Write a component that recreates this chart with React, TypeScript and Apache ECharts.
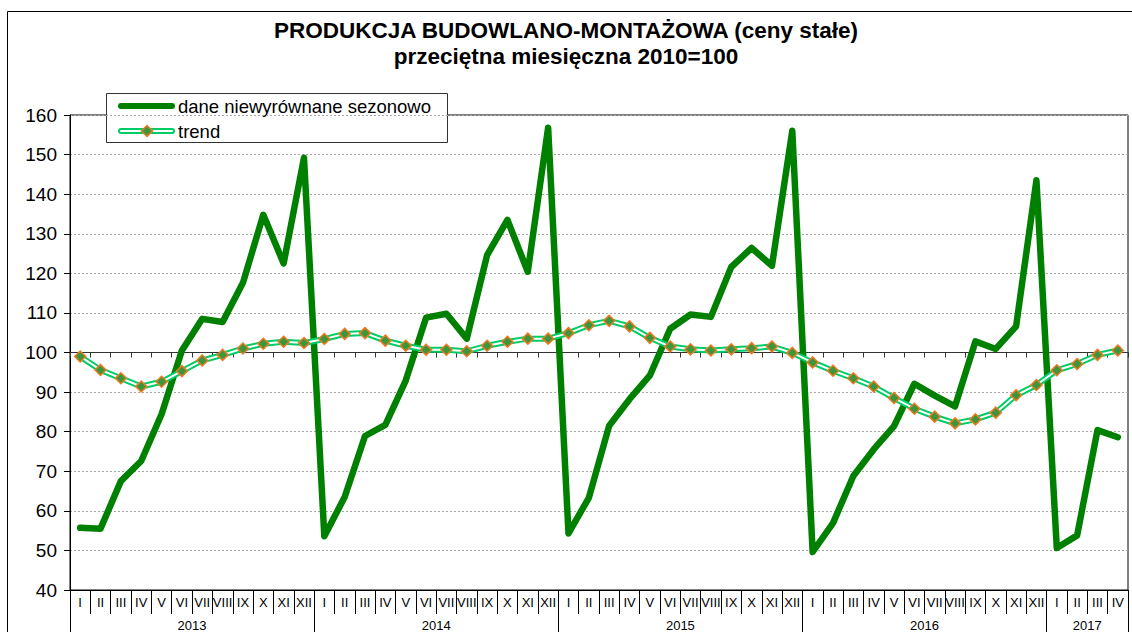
import React, { useEffect, useRef } from 'react';
import * as echarts from 'echarts';

const monthNames = ['I', 'II', 'III', 'IV', 'V', 'VI', 'VII', 'VIII', 'IX', 'X', 'XI', 'XII'];
const years = ['2013', '2014', '2015', '2016', '2017'];
const monthsPerYear = [12, 12, 12, 12, 4];

const dane = [
  55.7, 55.5, 67.5, 72.6, 84.4, 100.5, 108.5, 107.7, 117.6, 134.8, 122.5, 149.2,
  53.6, 63.5, 78.9, 81.7, 92.9, 108.8, 109.8, 103.5, 124.6, 133.5, 120.4, 156.8,
  54.3, 63.3, 81.5, 88.2, 94.2, 106.0, 109.6, 109.0, 121.6, 126.4, 121.9, 156.0,
  49.6, 56.9, 68.8, 75.5, 81.4, 92.1, 89.1, 86.4, 102.8, 100.9, 106.6, 143.5,
  50.6, 53.8, 80.4, 78.6,
];

const trend = [
  99.0, 95.6, 93.5, 91.4, 92.6, 95.3, 98.0, 99.4, 101.0, 102.2, 102.7, 102.4,
  103.4, 104.7, 104.9, 103.0, 101.7, 100.7, 100.7, 100.3, 101.7, 102.7, 103.5, 103.5,
  104.9, 106.9, 108.0, 106.6, 103.7, 101.5, 100.8, 100.5, 100.8, 101.1, 101.5, 99.9,
  97.5, 95.4, 93.5, 91.4, 88.5, 85.8, 83.8, 82.1, 83.1, 84.8, 89.2, 91.8,
  95.5, 97.1, 99.4, 100.5,
];

const titleLines = ['PRODUKCJA BUDOWLANO-MONTAŻOWA (ceny stałe)', 'przeciętna miesięczna 2010=100'];
const legendNames = ['dane niewyrównane sezonowo', 'trend'];

const yMin = 40;
const yMax = 160;
const yStep = 10;
const refValue = 100;

const categories: string[] = [];
const yearStarts: number[] = [];
const yearCenters: number[] = [];
{
  let acc = 0;
  monthsPerYear.forEach((n) => {
    yearStarts.push(acc);
    yearCenters.push(acc + n / 2);
    for (let i = 0; i < n; i++) categories.push(monthNames[i]);
    acc += n;
  });
  yearStarts.push(acc);
}

const FONT = '"Liberation Sans", Arial, sans-serif';

export default function App() {
  const ref = useRef<HTMLDivElement>(null);

  useEffect(() => {
    document.body.style.margin = '0';
    const chart = echarts.init(ref.current!, null, { renderer: 'svg' });

    const gridTop = 115;
    const gridBottom = 42;
    const gridHeight = 632 - gridTop - gridBottom;
    const refOffset = -(gridHeight * (refValue - yMin)) / (yMax - yMin);

    const titleStyle = {
      fontFamily: FONT,
      fontSize: 22.5,
      fontWeight: 'bold',
      color: '#000',
    };

    const option: any = {
      animation: false,
      backgroundColor: '#fff',
      textStyle: { fontFamily: FONT },
      title: [
        { text: titleLines[0], left: 'center', top: 14, padding: 5, textStyle: titleStyle },
        { text: titleLines[1], left: 'center', top: 40, padding: 5, textStyle: titleStyle },
      ],
      grid: {
        left: 70,
        right: 4,
        top: gridTop,
        bottom: gridBottom,
        show: true,
        borderColor: '#000',
        borderWidth: 1,
        containLabel: false,
      },
      xAxis: [
        {
          type: 'category',
          data: categories,
          position: 'bottom',
          boundaryGap: true,
          axisLine: { lineStyle: { color: '#000', width: 1 } },
          axisTick: { show: true, interval: 0, length: 24, lineStyle: { color: '#000' } },
          axisLabel: { interval: 0, fontSize: 13, margin: 6, color: '#000', fontFamily: FONT },
          splitLine: { show: false },
        },
        {
          type: 'category',
          data: categories,
          position: 'bottom',
          offset: refOffset,
          boundaryGap: true,
          axisLine: { show: true, lineStyle: { color: '#333', width: 1 } },
          axisTick: { show: true, interval: 0, length: 5, lineStyle: { color: '#333' } },
          axisLabel: { show: false },
          splitLine: { show: false },
        },
        {
          type: 'value',
          min: 0,
          max: categories.length,
          position: 'bottom',
          axisLine: { show: false },
          axisTick: {
            show: true,
            customValues: yearStarts,
            length: 42,
            lineStyle: { color: '#000' },
          },
          axisLabel: {
            show: true,
            customValues: yearCenters,
            margin: 29,
            fontSize: 13,
            color: '#000',
            fontFamily: FONT,
            formatter: (v: number) => {
              const i = yearCenters.findIndex((c) => Math.abs(c - v) < 0.01);
              return i >= 0 ? years[i] : '';
            },
          },
          splitLine: { show: false },
        },
      ],
      yAxis: {
        type: 'value',
        min: yMin,
        max: yMax,
        interval: yStep,
        axisLine: { show: true, lineStyle: { color: '#000', width: 1 } },
        axisTick: { show: true, length: 6, lineStyle: { color: '#000' } },
        axisLabel: { fontSize: 19, margin: 13, color: '#000', fontFamily: FONT },
        splitLine: { show: true, lineStyle: { color: '#a6a6a6', type: [2, 2], width: 1 } },
      },
      series: [
        {
          name: legendNames[0],
          type: 'line',
          data: dane,
          xAxisIndex: 0,
          symbol: 'none',
          z: 2,
          lineStyle: { color: '#008000', width: 6.5, cap: 'round', join: 'round' },
        },
        {
          name: 'trend-outer',
          type: 'line',
          data: trend,
          xAxisIndex: 0,
          symbol: 'none',
          z: 3,
          lineStyle: { color: '#00cc66', width: 6, join: 'round' },
        },
        {
          name: legendNames[1],
          type: 'line',
          data: trend,
          xAxisIndex: 0,
          symbol: 'diamond',
          symbolSize: 11,
          z: 4,
          lineStyle: { color: '#ffffff', width: 2 },
          itemStyle: { color: '#3c963c', borderColor: '#f07820', borderWidth: 1.5 },
        },
      ],
      graphic: [
        {
          type: 'rect',
          z: 0,
          silent: true,
          shape: { x: 7.5, y: 11.5, width: 1200, height: 700 },
          style: { fill: 'none', stroke: '#000', lineWidth: 1 },
        },
        {
          type: 'group',
          z: 100,
          children: [
            {
              type: 'rect',
              shape: { x: 106.5, y: 93.5, width: 341, height: 49 },
              style: { fill: '#fff', stroke: '#333', lineWidth: 1 },
            },
            {
              type: 'line',
              shape: { x1: 121, y1: 106, x2: 172, y2: 106 },
              style: { stroke: '#008000', lineWidth: 6, lineCap: 'round' },
            },
            {
              type: 'text',
              x: 178,
              y: 106,
              style: {
                text: legendNames[0],
                fontFamily: FONT,
                fontSize: 18.5,
                fill: '#000',
                verticalAlign: 'middle',
                align: 'left',
              },
            },
            {
              type: 'line',
              shape: { x1: 121, y1: 131, x2: 172, y2: 131 },
              style: { stroke: '#00cc66', lineWidth: 6, lineCap: 'round' },
            },
            {
              type: 'line',
              shape: { x1: 121, y1: 131, x2: 172, y2: 131 },
              style: { stroke: '#ffffff', lineWidth: 2, lineCap: 'round' },
            },
            {
              type: 'polygon',
              shape: { points: [[147, 125.5], [152.5, 131], [147, 136.5], [141.5, 131]] },
              style: { fill: '#3c963c', stroke: '#f07820', lineWidth: 1.5 },
            },
            {
              type: 'text',
              x: 178,
              y: 131,
              style: {
                text: legendNames[1],
                fontFamily: FONT,
                fontSize: 18.5,
                fill: '#000',
                verticalAlign: 'middle',
                align: 'left',
              },
            },
          ],
        },
      ],
    };

    chart.setOption(option);
    return () => chart.dispose();
  }, []);

  return <div ref={ref} style={{ width: 1132, height: 632 }} />;
}
